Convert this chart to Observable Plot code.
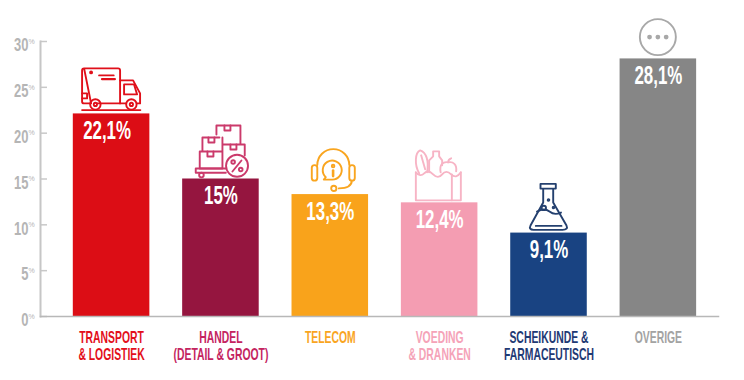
<!DOCTYPE html>
<html><head><meta charset="utf-8">
<style>html,body{margin:0;padding:0;background:#fff}svg{display:block}</style>
<script src="https://cdn.jsdelivr.net/npm/d3@7"></script>
<script src="https://cdn.jsdelivr.net/npm/@observablehq/plot@0.6"></script>
</head><body><div id="chart"></div>
<script>
const categories = ["Transport","Handel","Telecom","Voeding","Scheikunde","Overige"];
const values = [22.1,15,13.3,12.4,9.1,28.1];
const valueLabels = ["22,1%","15%","13,3%","12,4%","9,1%","28,1%"];
const categoryLabels = ["TRANSPORT\n& LOGISTIEK","HANDEL\n(DETAIL & GROOT)","TELECOM","VOEDING\n& DRANKEN","SCHEIKUNDE &\nFARMACEUTISCH","OVERIGE"];
const barColors = ["#dc0d15","#95153f","#f9a31b","#f49db2","#194382","#868686"];
const labelColors = ["#e30f1b","#c4245f","#f9a51f","#f5a3b8","#1f3a74","#a3a3a3"];
const iconColors = ["#e0101a","#cb3a6b","#f9a51f","#f7b4c5","#24406f","#a8a8a8"];
const yTicks = [0,5,10,15,20,25,30];

// Icon artwork, in a local frame whose origin is the top centre of the bar
const icons = [
 `<path d="M-27-45H7a2 2 0 0 1 2 2V-10H-14M-20-10H-27a2 2 0 0 1-2-2V-43a2 2 0 0 1 2-2Z"/><path d="M9-33H22L29-20V-10H26M15-10H9"/><path d="M13-29H23L26-19H13Z"/><path d="M-29-20H-24V-15H-29"/><circle cx="-15.7" cy="-9" r="5.2"/><circle cx="-15.7" cy="-9" r="1.6"/><circle cx="20.3" cy="-9" r="5.2"/><circle cx="20.3" cy="-9" r="1.6"/><path d="M-29-3.3H29.3"/><path d="M-12-38H2.6"/><path d="M-9-34.3H3.7" stroke-width="2.4"/><circle cx="-20" cy="-41" r="1"/>`,
 `<path d="M-4-46V-53H20V-35M-4-49V-44M-1-41H-18V-27M-18-33V-27M-20.7-27H2V-10H-20.7ZM2-34H24.3V-23M2-41V-27"/><path d="M4-53V-48H10V-53M-12-41V-36H-6V-41M-13-27V-22H-7V-27M10-34V-29H16V-34"/><path d="M-24.7-10H5.4M-24.7-5.7H5.4M-24.7-10V-5.7"/><circle cx="-19" cy="-3.4" r="2.3"/><circle cx="16.6" cy="-12.7" r="11"/><path d="M21-18L12-7"/><circle cx="12.7" cy="-16.5" r="1.8"/><circle cx="20.3" cy="-9" r="1.8"/>`,
 `<path d="M-12.5-29A16 16 0 0 1 19.5-29"/><rect x="-18" y="-29" width="5.5" height="15.5" rx="2.7"/><rect x="19.5" y="-29" width="5.5" height="15.5" rx="2.7"/><path d="M-4-17A9.5 9.5 0 1 1 2-14.5H-6Z"/><path d="M3.3-23.5V-18" stroke-width="2.6"/><circle cx="3.3" cy="-28" r="1.3"/><path d="M22-13.5Q22-5.7 9-5.7"/><circle cx="4" cy="-5.7" r="2.6"/>`,
 `<path d="M-23.3-30V-2H21.7V-30"/><path d="M12.7-28V-2"/><path d="M-23.3-30Q-19-25-15-29T-6-28T3-28T12-28T21.7-30"/><path d="M-20-29C-25-38-24-50-19-52C-13-50-10-42-12-30"/><path d="M-18-47L-14-33"/><path d="M-10-30V-42L-6-46V-51H0V-46L3-42V-37"/><path d="M1.5-30C0-38 4-41 9-40C14-41 18-38 17-31"/><path d="M9-40Q9-43 12-44"/>`,
 `<path d="M-8-48.7H7.3V-44H-8ZM-5.3-44V-30L-18-7Q-20-3-15-2.7H14Q20-3 18-7L4.7-30V-44"/><path d="M-11.5-21Q-4-25 1-21T12.5-20"/><circle cx="-4.7" cy="-24.7" r="2.2"/><circle cx="0" cy="-32.6" r=".8"/><circle cx="5" cy="-25" r=".8"/><path d="M-12.7-6.7H13"/>`,
 `<circle cx="0" cy="-21.3" r="18"/><circle cx="-8.3" cy="-21.3" r="2.4" fill="#a8a8a8" stroke="none"/><circle cx="0" cy="-21.3" r="2.4" fill="#a8a8a8" stroke="none"/><circle cx="8.3" cy="-21.3" r="2.4" fill="#a8a8a8" stroke="none"/>`
];

const font = "'Liberation Sans',Arial,sans-serif";
const squeeze = k => (i, s, v, d, c, next) => {
  const g = next(i, s, v, d, c);
  g.querySelectorAll("text").forEach(t => t.setAttribute("transform", (t.getAttribute("transform") || "") + ` scale(${k},1)`));
  return g;
};
const rows = categories.map((c, i) => ({c, v: values[i], t: valueLabels[i], l: categoryLabels[i], bc: barColors[i], lc: labelColors[i]}));
const valueStyle = {x: "c", y: "v", text: "t", dy: 17, fontSize: 26, fontWeight: "bold", fill: "#fff", render: squeeze(0.65)};

const chart = Plot.plot({
  width: 744, height: 380,
  marginLeft: 40, marginRight: 26, marginTop: 41, marginBottom: 64,
  style: {background: "#fff", fontFamily: font},
  x: {domain: categories, paddingInner: 0.3, paddingOuter: 0.25, align: 0.6, round: false, axis: null},
  y: {domain: [0, 30], axis: null},
  marks: [
    Plot.barY(rows, {x: "c", y: "v", fill: "bc"}),
    Plot.axisY({ticks: yTicks, tickSize: -7, tickFormat: () => "", stroke: "#c8c8c8", strokeWidth: 1.5, strokeOpacity: 1, label: null}),
    Plot.frame({anchor: "left", stroke: "#c6c6c6", strokeWidth: 2}),
    Plot.frame({anchor: "bottom", stroke: "#b8b8b8", strokeWidth: 1.5}),
    Plot.text(yTicks, {y: d => d, text: d => String(d), frameAnchor: "left", textAnchor: "end", dx: -12, dy: 4, fontSize: 18, fontWeight: "bold", fill: "#b5b5b5", render: squeeze(0.72)}),
    Plot.text(yTicks, {y: d => d, text: () => "%", frameAnchor: "left", textAnchor: "start", dx: -12, dy: 0, fontSize: 7, fill: "#b5b5b5"}),
    Plot.text(rows.slice(0, 1), {...valueStyle, dx: -4.5}),
    Plot.text(rows.slice(1), valueStyle),
    Plot.text(rows, {x: "c", y: 0, text: "l", dy: 15, lineAnchor: "top", lineHeight: 1.04, fontSize: 16, fontWeight: "bold", fill: "lc", render: squeeze(0.65)})
  ]
});

const sx = chart.scale("x"), sy = chart.scale("y");
const layer = d3.select(chart).append("g").attr("fill", "none").attr("stroke-width", 1.9).attr("stroke-linejoin", "round").attr("stroke-linecap", "round");
rows.forEach((r, i) => {
  layer.append("g")
    .attr("transform", `translate(${sx.apply(r.c) + sx.bandwidth / 2},${sy.apply(r.v)})`)
    .attr("stroke", iconColors[i])
    .html(icons[i]);
});
document.getElementById("chart").append(chart);
</script>
</body></html>
